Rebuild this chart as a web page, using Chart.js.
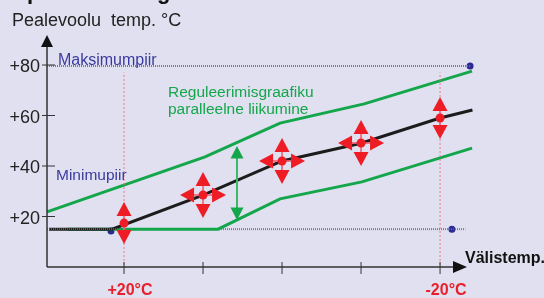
<!DOCTYPE html>
<html>
<head>
<meta charset="utf-8">
<script src="https://cdn.jsdelivr.net/npm/chart.js@4"></script>
<style>
  html, body { margin: 0; padding: 0; background: #e0e0f0; }
  #wrap { width: 544px; height: 298px; }
</style>
</head>
<body>
<div id="wrap"><canvas id="myChart" width="544" height="298"></canvas></div>
<script>
// data (x = outdoor temp °C, y = flow temp °C)
const curveT = [29.5, 21.5, 10, 0, -10, -20, -24.1];
const curveV = [15, 15, 28.5, 42, 49, 59, 62.2];
const upperT = [29.75, 9.75, 0.25, -10.4, -24.05];
const upperV = [21.8, 43.6, 57, 64.6, 77.6];
const lowerT = [27.2, 8.1, 0.25, -10.1, -24.05];
const lowerV = [15, 15, 27, 33.7, 47.1];
const maxLimitT = [29.75, -23.8];
const maxLimitV = [79.6, 79.6];
const minLimitT = [29.75, -23.2];
const minLimitV = [15, 15];
const dotT = [21.65, -21.5, -23.8];
const dotV = [14.3, 15, 79.6];
const markT = [20, 10, 0, -10, -20];
const markV = [17.4, 28.5, 42, 49.1, 59];
const markKind = ['v', 'x', 'x', 'x', 'v'];
const guideT = [20, -20];
const guideV = [0.8, 77];
const shiftT = 5.7;
const shiftV = [47.9, 18.6];
const yTicks = [20, 40, 60, 80];
const yTickLabels = ['+20', '+40', '+60', '+80'];
const xTicks = [20, 10, 0, -10, -20];
const xTickLabels = ['+20°C', '', '', '', '-20°C'];

const FONT = '"Liberation Sans", Arial, sans-serif';
const pts = (xs, ys) => xs.map((x, i) => ({x: x, y: ys[i]}));

const datasets = [];
guideT.forEach(t => {
  datasets.push({data: pts([t, t], guideV), borderColor: 'rgba(240,110,130,0.9)', borderWidth: 1, borderDash: [2, 2]});
});
datasets.push({data: pts(maxLimitT, maxLimitV), borderColor: 'rgba(100,100,185,0.85)', borderWidth: 2, borderDash: [1, 1]});
datasets.push({data: pts(minLimitT, minLimitV), borderColor: 'rgba(100,100,185,0.85)', borderWidth: 2, borderDash: [1, 1]});
datasets.push({data: pts(curveT, curveV), borderColor: '#1c1c1c', borderWidth: 3});
datasets.push({data: pts(upperT, upperV), borderColor: '#14a64a', borderWidth: 3});
datasets.push({data: pts(lowerT, lowerV), borderColor: '#14a64a', borderWidth: 3});
datasets.push({data: pts(dotT, dotV), showLine: false, pointRadius: 3.5, pointBackgroundColor: '#2a2a90', pointBorderWidth: 0});
datasets.forEach(d => { d.clip = false; d.tension = 0; if (d.pointRadius === undefined) d.pointRadius = 0; });

function tri(c, x, y, dx, dy, len, hw) {
  const bx = x - dx * len, by = y - dy * len;
  c.beginPath();
  c.moveTo(x, y);
  c.lineTo(bx - dy * hw, by + dx * hw);
  c.lineTo(bx + dy * hw, by - dx * hw);
  c.closePath();
  c.fill();
}

const background = {
  id: 'background',
  beforeDraw(chart) {
    const c = chart.ctx;
    c.save();
    c.fillStyle = '#e0e0f0';
    c.fillRect(0, 0, chart.width, chart.height);
    c.restore();
  }
};

const axesAndMarks = {
  id: 'axesAndMarks',
  afterDatasetsDraw(chart) {
    const c = chart.ctx, xs = chart.scales.x, ys = chart.scales.y;
    const x0 = xs.getPixelForValue(29.75), y0 = ys.getPixelForValue(0);
    c.save();
    // axes
    c.strokeStyle = '#333'; c.fillStyle = '#111'; c.lineWidth = 1.5;
    c.beginPath(); c.moveTo(x0, y0); c.lineTo(x0, 46); c.stroke();
    tri(c, x0, 35, 0, -1, 12, 6);
    c.beginPath(); c.moveTo(x0, y0); c.lineTo(455, y0); c.stroke();
    tri(c, 467, y0, 1, 0, 14, 6);
    c.lineWidth = 1;
    c.font = '18px ' + FONT; c.fillStyle = '#222';
    c.textAlign = 'right'; c.textBaseline = 'middle';
    yTicks.forEach((v, i) => {
      const y = ys.getPixelForValue(v);
      c.beginPath(); c.moveTo(42, y); c.lineTo(55, y); c.stroke();
      c.fillText(yTickLabels[i], 40, y + 2.5);
    });
    c.font = 'bold 16px ' + FONT; c.fillStyle = '#e8202a'; c.textAlign = 'center'; c.textBaseline = 'alphabetic';
    xTicks.forEach((t, i) => {
      const x = xs.getPixelForValue(t);
      c.beginPath(); c.moveTo(x, y0 - 5); c.lineTo(x, y0 + 7); c.stroke();
      if (xTickLabels[i]) c.fillText(xTickLabels[i], x + 6, 295);
    });
    // texts
    c.textAlign = 'left';
    c.fillStyle = '#111'; c.font = 'bold 16px ' + FONT;
    c.fillText('Välistemp.', 465, 263);
    c.font = 'bold 22px ' + FONT;
    c.fillText('p', 27, -1);
    c.fillText('g', 157, -1);
    c.fillStyle = '#222'; c.font = '18px ' + FONT;
    c.fillText('Pealevoolu  temp. °C', 12, 26);
    c.fillStyle = '#3a3aa0'; c.font = '16px ' + FONT;
    c.fillText('Maksimumpiir', 58, 65);
    c.font = '15.5px ' + FONT;
    c.fillText('Minimupiir', 56, 180);
    c.fillStyle = '#14a64a';
    c.fillText('Reguleerimisgraafiku', 168, 97);
    c.fillText('paralleelne liikumine', 168, 114);
    // parallel shift arrow
    const gx = xs.getPixelForValue(shiftT), gy1 = ys.getPixelForValue(shiftV[0]), gy2 = ys.getPixelForValue(shiftV[1]);
    c.strokeStyle = '#3cb868'; c.lineWidth = 2;
    c.beginPath(); c.moveTo(gx, gy1 + 10); c.lineTo(gx, gy2 - 10); c.stroke();
    c.fillStyle = '#14a64a';
    tri(c, gx, gy1, 0, -1, 12.5, 6.5);
    tri(c, gx, gy2, 0, 1, 12.5, 6.5);
    // red adjustment markers
    markT.forEach((t, i) => {
      const mx = xs.getPixelForValue(t), my = ys.getPixelForValue(markV[i]);
      const dirs = markKind[i] === 'x' ? [[0, -1], [0, 1], [-1, 0], [1, 0]] : [[0, -1], [0, 1]];
      const reach = markKind[i] === 'x' ? 23 : 21;
      c.strokeStyle = 'rgba(240,100,120,0.85)'; c.lineWidth = 2;
      dirs.forEach(d => {
        c.beginPath(); c.moveTo(mx, my); c.lineTo(mx + d[0] * (reach - 10), my + d[1] * (reach - 10)); c.stroke();
      });
      c.fillStyle = '#ee1c25';
      dirs.forEach(d => tri(c, mx + d[0] * reach, my + d[1] * reach, d[0], d[1], 14, 7.5));
      c.beginPath(); c.arc(mx, my, 4.5, 0, Math.PI * 2); c.fill();
    });
    c.restore();
  }
};

const config = {
  type: 'line',
  data: {datasets},
  options: {
    responsive: false,
    animation: false,
    layout: {padding: {left: 47, right: 65, top: 34.7, bottom: 31}},
    plugins: {legend: {display: false}, tooltip: {enabled: false}},
    scales: {
      x: {type: 'linear', reverse: true, min: -24.93, max: 29.75, display: false},
      y: {type: 'linear', min: 0, max: 92, display: false}
    }
  },
  plugins: [background, axesAndMarks]
};

const myChart = new Chart(document.getElementById('myChart'), config);
</script>
</body>
</html>
